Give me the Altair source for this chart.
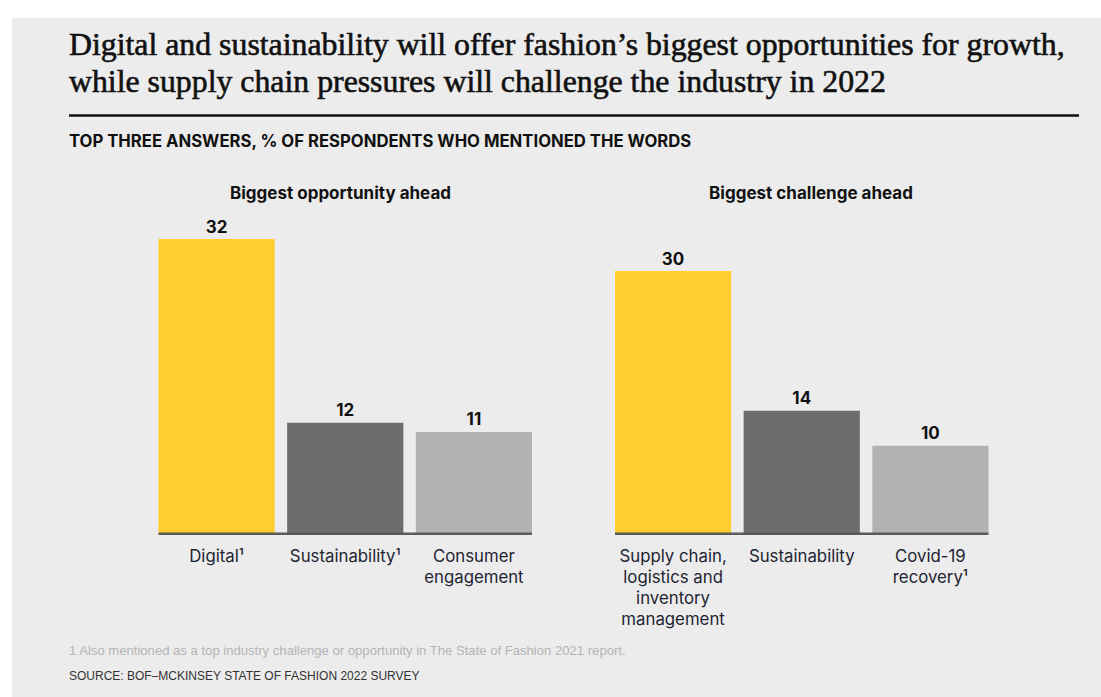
import altair as alt
import pandas as pd

# ---- data ----
opp_categories = ["Digital¹", "Sustainability¹", "Consumer\nengagement"]
opp_values = [32, 12, 11]
chal_categories = ["Supply chain,\nlogistics and\ninventory\nmanagement", "Sustainability", "Covid-19\nrecovery¹"]
chal_values = [30, 14, 10]
bar_colors = ["#FFCD2F", "#6D6D6D", "#B2B2B2"]

title_lines = [
    "Digital and sustainability will offer fashion’s biggest opportunities for growth,",
    "while supply chain pressures will challenge the industry in 2022",
]
subtitle = "TOP THREE ANSWERS, % OF RESPONDENTS WHO MENTIONED THE WORDS"
panel_titles = ["Biggest opportunity ahead", "Biggest challenge ahead"]
footnote = "1 Also mentioned as a top industry challenge or opportunity in The State of Fashion 2021 report."
source = "SOURCE: BOF–MCKINSEY STATE OF FASHION 2022 SURVEY"

SANS = "Inter"
SMALL = "Liberation Sans"
SERIF = "Liberation Serif"
LABEL_COLOR = "#1E2432"
BASE_Y = 533


def one():
    return alt.Chart(pd.DataFrame({"k": [0]}))


def panel(cats, vals, x0, x1, y_top, vmax, header, header_x):
    df = pd.DataFrame({"cat": cats, "val": vals, "color": bar_colors})
    x = alt.X("cat:N", sort=cats, axis=None,
              scale=alt.Scale(range=[x0, x1], paddingInner=0.097, paddingOuter=0))
    y = alt.Y("val:Q", axis=None,
              scale=alt.Scale(domain=[0, vmax], range=[BASE_Y, y_top], nice=False, zero=True))
    base = alt.Chart(df)
    bars = base.mark_bar().encode(x=x, y=y, color=alt.Color("color:N", scale=None))
    values = base.mark_text(baseline="alphabetic", dy=-6.5, fontSize=17, fontWeight="bold",
                            font=SANS, color="#111111").encode(x=x, y=y, text="val:Q")
    labels = base.mark_text(baseline="alphabetic", lineBreak="\n", lineHeight=21.2, fontSize=16.8,
                            font=SANS, color=LABEL_COLOR).encode(x=x, y=alt.value(561.8), text="cat:N")
    rule = one().mark_rule(color="#5A5A5A", strokeWidth=2.5).encode(
        x=alt.value(x0), x2=alt.value(x1), y=alt.value(BASE_Y + 0.8))
    head = one().mark_text(text=header, fontSize=17, fontWeight="bold", font=SANS,
                           color="#111111", baseline="alphabetic").encode(
        x=alt.value(header_x), y=alt.value(199))
    return alt.layer(bars, values, labels, rule, head)


background = one().mark_rect(color="#ECECEC").encode(
    x=alt.value(12), x2=alt.value(1101), y=alt.value(18), y2=alt.value(697))

title_style = dict(font=SERIF, fontSize=31.8, color="#111111", stroke="#111111", strokeWidth=0.6,
                   align="left", baseline="alphabetic")
title1 = one().mark_text(text=title_lines[0], **title_style).encode(x=alt.value(69), y=alt.value(55))
title2 = one().mark_text(text=title_lines[1], **title_style).encode(x=alt.value(69), y=alt.value(92))
title_rule = one().mark_rule(color="#111111", strokeWidth=2.5).encode(
    x=alt.value(69), x2=alt.value(1079), y=alt.value(115.5))
sub = one().mark_text(text=subtitle, font=SANS, fontSize=16.7, fontWeight="bold", color="#111111",
                      align="left", baseline="alphabetic").encode(x=alt.value(69), y=alt.value(146.5))
foot = one().mark_text(text=footnote, font=SMALL, fontSize=13.1, color="#B4B4B4",
                       align="left", baseline="alphabetic").encode(x=alt.value(69), y=alt.value(654.5))
src = one().mark_text(text=source, font=SMALL, fontSize=12, color="#333333",
                      align="left", baseline="alphabetic").encode(x=alt.value(69), y=alt.value(680))

left = panel(opp_categories, opp_values, 158.5, 532, 239, 32, panel_titles[0], 340.5)
right = panel(chal_categories, chal_values, 615, 988.5, 271, 30, panel_titles[1], 811)

chart = alt.layer(background, title1, title2, title_rule, sub, foot, src, left, right).resolve_scale(
    x="independent", y="independent"
).properties(
    width=1101, height=697, autosize=alt.AutoSizeParams(type="none"), padding=0,
    background="#FFFFFF"
).configure_view(stroke=None)

chart.save("out.html", embed_options={"renderer": "svg", "actions": False})
